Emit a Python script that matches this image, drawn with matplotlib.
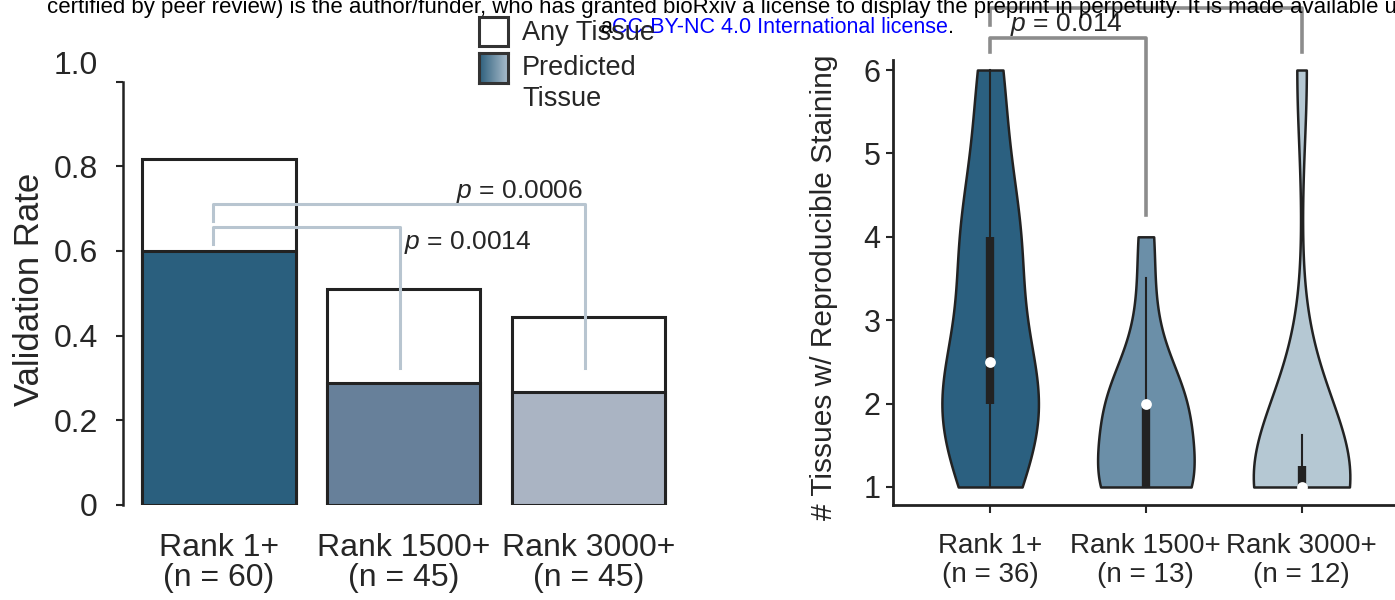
import numpy as np
import matplotlib
matplotlib.use("Agg")
import matplotlib.pyplot as plt
from matplotlib.patches import Rectangle
from matplotlib.colors import LinearSegmentedColormap

plt.rcParams['font.family'] = ['Liberation Sans', 'DejaVu Sans']
plt.rcParams['mathtext.fontset'] = 'custom'
plt.rcParams['mathtext.rm'] = 'Liberation Sans'
plt.rcParams['mathtext.it'] = 'Liberation Sans:italic'

# left panel: validation rate per rank bin
bar_labels = ["Rank 1+\n(n = 60)", "Rank 1500+\n(n = 45)", "Rank 3000+\n(n = 45)"]
any_tissue = [0.817, 0.511, 0.444]
predicted_tissue = [0.600, 0.289, 0.267]
bar_colors = ["#2a5f7e", "#67809a", "#aab4c3"]
left_pvals = ["0.0014", "0.0006"]

# right panel: number of tissues with reproducible staining
violin_labels = ["Rank 1+\n(n = 36)", "Rank 1500+\n(n = 13)", "Rank 3000+\n(n = 12)"]
rank1_tissues = [1, 1, 1, 1, 1, 1,
                 2, 2, 2, 2, 2, 2, 2, 2, 2, 2, 2, 2,
                 3, 3, 3, 3, 3,
                 4, 4, 4, 4, 4, 4, 4,
                 5, 5, 5,
                 6, 6, 6]
rank1500_tissues = [1, 1, 1, 1, 1, 1, 2, 2, 2, 2, 2, 3, 4]
rank3000_tissues = [1, 1, 1, 1, 1, 1, 1, 1, 1, 2, 2, 6]
violin_colors = ["#2b6080", "#6b8fa8", "#b5c8d3"]
right_pval = "0.014"

EDGE = "#222222"
TXT = "#262626"

fig = plt.figure(figsize=(13.95, 6), dpi=100)
W, H = 1395.0, 600.0

# ---------------- left: stacked-over bars ----------------
ax1 = fig.add_axes([123 / W, 95 / H, 552 / W, 423.5 / H])
x = np.arange(len(bar_labels))
ax1.bar(x, any_tissue, width=0.83, color="white", edgecolor=EDGE, linewidth=2.2, zorder=2)
ax1.bar(x, predicted_tissue, width=0.83, color=bar_colors, edgecolor=EDGE, linewidth=2.2, zorder=2)
ax1.set_xlim(-0.52, 2.47)
ax1.set_ylim(0, 1.0)
for s in ["top", "right", "bottom"]:
    ax1.spines[s].set_visible(False)
ax1.spines["left"].set_linewidth(1.8)
ax1.spines["left"].set_color(EDGE)
ax1.set_xticks(x, bar_labels)
ax1.set_yticks([0, 0.2, 0.4, 0.6, 0.8, 1.0], ["0", "0.2", "0.4", "0.6", "0.8", ""])
ax1.tick_params(axis="x", length=0, pad=20, labelsize=23, colors=TXT)
ax1.tick_params(axis="y", length=5, width=1.5, pad=13, labelsize=23, colors=TXT)
for t in ax1.get_xticklabels():
    t.set_linespacing(1.0)
ax1.annotate("1.0", xy=(0, 1.0), xycoords=("axes fraction", "data"),
             xytext=(-18, 11.5), textcoords="offset points",
             ha="right", va="center", fontsize=23, color=TXT)
ax1.set_ylabel("Validation Rate", fontsize=25, color=TXT)
ax1.yaxis.set_label_coords(-0.14, 0.51)

# significance brackets (left)
br_col = "#b8c5d0"
ax1.plot([-0.03, -0.03, 0.98, 0.98], [0.616, 0.656, 0.656, 0.323], color=br_col, lw=2.2, zorder=3)
ax1.plot([-0.03, -0.03, 1.98, 1.98], [0.671, 0.711, 0.711, 0.323], color=br_col, lw=2.2, zorder=3)
ax1.text(1.0, 0.621, r"$p$ = " + left_pvals[0], fontsize=19, ha="left", va="center", color=TXT)
ax1.text(1.97, 0.741, r"$p$ = " + left_pvals[1], fontsize=19, ha="right", va="center", color=TXT)

# legend (drawn by hand, gradient swatch for predicted)
fig.add_artist(Rectangle((479 / W, 1 - 46 / H), 29 / W, 29 / H, transform=fig.transFigure,
                         facecolor="white", edgecolor="#333333", linewidth=2.2))
lax = fig.add_axes([479 / W, 1 - 83 / H, 29 / W, 30 / H])
grad_cmap = LinearSegmentedColormap.from_list("grad", ["#2d5f7c", "#a9bccb"])
lax.imshow(np.linspace(0, 1, 64).reshape(1, -1), cmap=grad_cmap, aspect="auto")
lax.set_xticks([])
lax.set_yticks([])
for s in lax.spines.values():
    s.set_linewidth(2.2)
    s.set_color("#333333")
fig.text(522 / W, 1 - 33 / H, "Any Tissue", fontsize=19.5, va="center", ha="left", color=TXT)
fig.text(522 / W, 1 - 68 / H, "Predicted", fontsize=19.5, va="center", ha="left", color=TXT)
fig.text(522 / W, 1 - 99 / H, "Tissue", fontsize=19.5, va="center", ha="left", color=TXT)

# ---------------- right: violins ----------------
ax2 = fig.add_axes([893 / W, 95 / H, 502 / W, 445 / H])
groups = [rank1_tissues, rank1500_tissues, rank3000_tissues]
pos = np.arange(len(groups))
parts = ax2.violinplot(groups, positions=pos, widths=0.62, showextrema=False)
for body, c in zip(parts["bodies"], violin_colors):
    body.set_facecolor(c)
    body.set_edgecolor(EDGE)
    body.set_linewidth(1.8)
    body.set_alpha(1)
for i, d in enumerate(groups):
    q0, q25, q50, q75, q100 = np.percentile(d, [0, 25, 50, 75, 100])
    iqr = q75 - q25
    lo = max(q0, q25 - 1.5 * iqr)
    hi = min(q100, q75 + 1.5 * iqr)
    ax2.plot([i, i], [lo, hi], color=EDGE, lw=1.5, zorder=3)
    ax2.plot([i, i], [q25, q75], color=EDGE, lw=6, solid_capstyle="butt", zorder=3)
    ax2.scatter([i], [q50], s=60, color="white", zorder=4, linewidths=0)

ax2.set_xlim(-0.624, 2.6)
ax2.set_ylim(0.784, 6.12)
for s in ["top", "right"]:
    ax2.spines[s].set_visible(False)
for s in ["left", "bottom"]:
    ax2.spines[s].set_linewidth(2)
    ax2.spines[s].set_color(EDGE)
ax2.set_xticks(pos, violin_labels)
ax2.set_yticks([1, 2, 3, 4, 5, 6])
ax2.tick_params(axis="x", length=6, width=1.5, pad=14, labelsize=20, colors=TXT)
ax2.tick_params(axis="y", length=5, width=1.5, pad=4, labelsize=22, colors=TXT)
for t in ax2.get_xticklabels():
    t.set_linespacing(1.15)
ax2.set_ylabel("# Tissues w/ Reproducible Staining", fontsize=21.5, color=TXT)
ax2.yaxis.set_label_coords(-0.11, 0.49)

# significance brackets (right)
br_col2 = "#8c8c8c"
ax2.plot([0, 0, 1, 1], [6.216, 6.384, 6.384, 4.26], color=br_col2, lw=2.6, clip_on=False, zorder=3)
ax2.plot([0, 0, 2, 2], [6.54, 6.74, 6.74, 6.216], color=br_col2, lw=2.6, clip_on=False, zorder=3)
ax2.text(0.13, 6.54, r"$p$ = " + right_pval, fontsize=19, ha="left", va="center", color=TXT)

# ---------------- page header overlapping the figure ----------------
fig.text(47 / W, 1 - 13 / H,
         "certified by peer review) is the author/funder, who has granted bioRxiv a license to display "
         "the preprint in perpetuity. It is made available under a",
         fontsize=16, ha="left", va="baseline", color="black", zorder=10)
a_txt = fig.text(600 / W, 1 - 33 / H, "a", fontsize=15.5, ha="left", va="baseline",
                 color="black", zorder=10)
lic = ax1.annotate("CC-BY-NC 4.0 International license", xy=(1, 0), xycoords=a_txt,
                   va="bottom", ha="left", fontsize=15.5, color="blue", zorder=10)
ax1.annotate(".", xy=(1, 0), xycoords=lic, va="bottom", ha="left", fontsize=15.5,
             color="black", zorder=10)

fig.savefig("out.png", dpi=100)
